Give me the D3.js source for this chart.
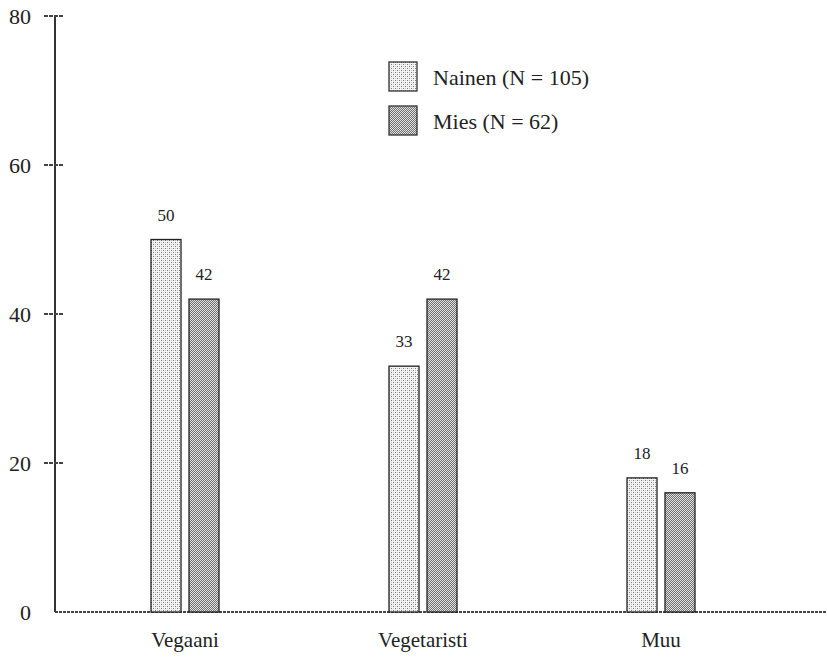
<!DOCTYPE html>
<html>
<head>
<meta charset="utf-8">
<script src="https://cdn.jsdelivr.net/npm/d3@7"></script>
<style>
  body { margin: 0; background: #fff; }
  text { font-family: "Liberation Serif", "DejaVu Serif", "Noto Serif", "Tinos", "FreeSerif", "Times", serif; }
</style>
</head>
<body>
<div id="chart"></div>
<script>
var categories = ['Vegaani', 'Vegetaristi', 'Muu']
var groups = ['Nainen (N = 105)', 'Mies (N = 62)']
var nainen = [50, 33, 18]
var mies = [42, 42, 16]
var yTicks = [0, 20, 40, 60, 80]

var width = 827, height = 657

var svg = d3.select('#chart').append('svg')
  .attr('width', width)
  .attr('height', height)
  .attr('fill', '#222')

// dotted fills, like the old print style
var defs = svg.append('defs')
var p1 = defs.append('pattern').attr('id', 'pat-nainen')
  .attr('width', 4).attr('height', 4).attr('patternUnits', 'userSpaceOnUse')
p1.append('rect').attr('width', 4).attr('height', 4).attr('fill', '#f4f4f4')
p1.append('rect').attr('x', 0).attr('y', 0).attr('width', 1).attr('height', 1).attr('fill', '#777')
p1.append('rect').attr('x', 2).attr('y', 2).attr('width', 1).attr('height', 1).attr('fill', '#777')
p1.append('rect').attr('x', 2).attr('y', 0).attr('width', 1).attr('height', 1).attr('fill', '#c4c4c4')
p1.append('rect').attr('x', 0).attr('y', 2).attr('width', 1).attr('height', 1).attr('fill', '#c4c4c4')

var p2 = defs.append('pattern').attr('id', 'pat-mies')
  .attr('width', 2).attr('height', 2).attr('patternUnits', 'userSpaceOnUse')
p2.append('rect').attr('width', 2).attr('height', 2).attr('fill', '#e2e2e2')
p2.append('rect').attr('x', 0).attr('y', 0).attr('width', 1).attr('height', 1).attr('fill', '#707070')
p2.append('rect').attr('x', 1).attr('y', 1).attr('width', 1).attr('height', 1).attr('fill', '#707070')

var fills = ['url(#pat-nainen)', 'url(#pat-mies)']

var y = d3.scaleLinear().domain([0, 80]).range([612, 16])
var x = d3.scaleBand().domain(categories).range([65, 780]).padding(0).round(true)
var xSub = d3.scaleBand().domain(groups).range([-34, 35]).paddingInner(0.2).round(true)

var data = categories.map(function (c, i) {
  return { cat: c, values: [nainen[i], mies[i]] }
})

// y axis
var yAxis = svg.append('g').attr('class', 'y-axis')
yAxis.append('line')
  .attr('x1', 55).attr('x2', 55)
  .attr('y1', y(80)).attr('y2', y(0))
  .attr('stroke', '#333').attr('stroke-width', 2)

yAxis.selectAll('.tick')
  .data(yTicks.filter(function (d) { return d > 0 }))
  .enter().append('line')
  .attr('x1', 44).attr('x2', 64)
  .attr('y1', function (d) { return y(d) })
  .attr('y2', function (d) { return y(d) })
  .attr('stroke', '#444').attr('stroke-width', 2)
  .attr('stroke-dasharray', '4,1')

yAxis.selectAll('.tick-label')
  .data(yTicks)
  .enter().append('text')
  .attr('x', 31)
  .attr('y', function (d) { return y(d) })
  .attr('dy', '0.35em')
  .attr('text-anchor', 'end')
  .style('font-size', '22px')
  .text(function (d) { return d })

// x axis
svg.append('line')
  .attr('x1', 55).attr('x2', width)
  .attr('y1', y(0)).attr('y2', y(0))
  .attr('stroke', '#444').attr('stroke-width', 2)
  .attr('stroke-dasharray', '3,1')

svg.selectAll('.cat-label')
  .data(categories)
  .enter().append('text')
  .attr('x', function (d) { return x(d) + x.bandwidth() / 2 })
  .attr('y', 647)
  .attr('text-anchor', 'middle')
  .style('font-size', '21px')
  .text(function (d) { return d })

// bars
var grp = svg.selectAll('.grp')
  .data(data)
  .enter().append('g')
  .attr('transform', function (d) { return 'translate(' + Math.round(x(d.cat) + x.bandwidth() / 2) + ',0)' })

grp.selectAll('rect')
  .data(function (d) { return d.values.map(function (v, i) { return { g: groups[i], v: v, i: i } }) })
  .enter().append('rect')
  .attr('x', function (d) { return xSub(d.g) })
  .attr('width', xSub.bandwidth())
  .attr('y', function (d) { return y(d.v) })
  .attr('height', function (d) { return y(0) - y(d.v) })
  .attr('fill', function (d) { return fills[d.i] })
  .attr('stroke', '#222').attr('stroke-width', 1.3)

grp.selectAll('.val')
  .data(function (d) { return d.values.map(function (v, i) { return { g: groups[i], v: v } }) })
  .enter().append('text')
  .attr('x', function (d) { return xSub(d.g) + xSub.bandwidth() / 2 })
  .attr('y', function (d) { return y(d.v) - 19 })
  .attr('text-anchor', 'middle')
  .style('font-size', '17px')
  .text(function (d) { return d.v })

// legend
var legend = svg.append('g').attr('transform', 'translate(389,62)')
groups.forEach(function (g, i) {
  legend.append('rect')
    .attr('x', 0).attr('y', i * 44)
    .attr('width', 28).attr('height', 29)
    .attr('fill', fills[i])
    .attr('stroke', '#333').attr('stroke-width', 1.3)
  legend.append('text')
    .attr('x', 44).attr('y', i * 44 + 15)
    .attr('dy', '0.35em')
    .style('font-size', '22px')
    .text(g)
})
</script>
</body>
</html>
